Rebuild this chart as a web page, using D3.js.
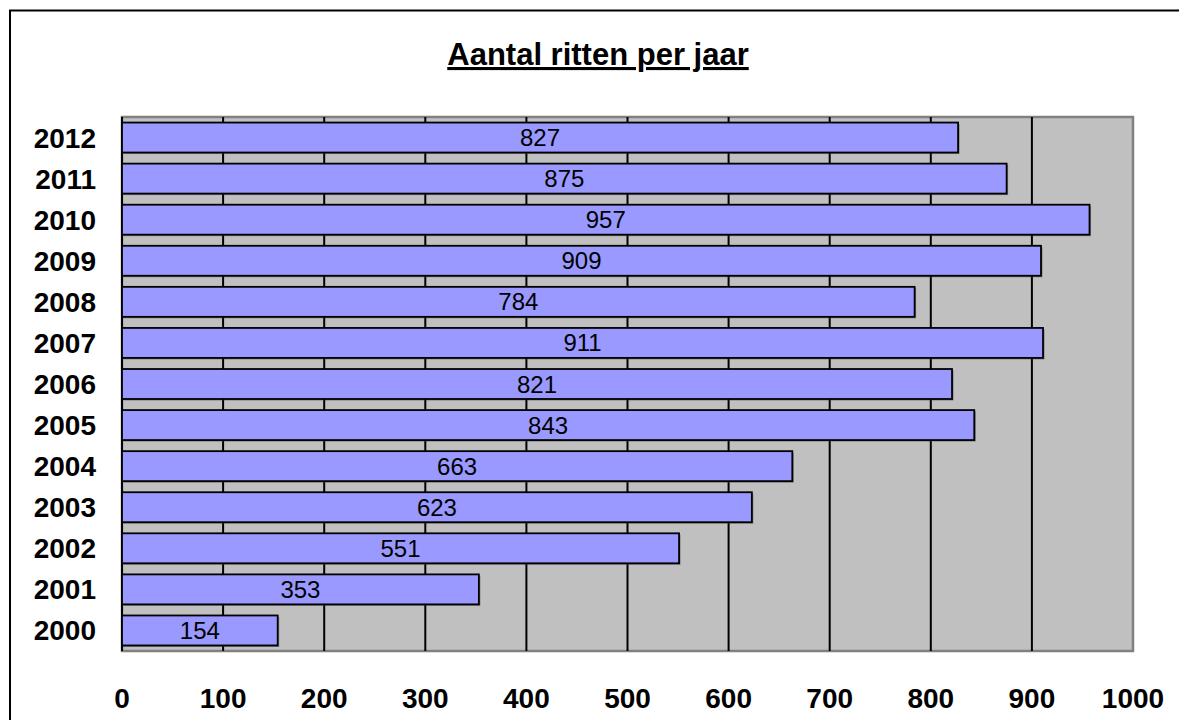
<!DOCTYPE html>
<html><head><meta charset="utf-8">
<script src="https://cdn.jsdelivr.net/npm/d3@7"></script>
<style>html,body{margin:0;padding:0;background:#fff;}svg{display:block;}</style>
</head><body>
<script>
const years = ["2012","2011","2010","2009","2008","2007","2006","2005","2004","2003","2002","2001","2000"];
const rides = [827,875,957,909,784,911,821,843,663,623,551,353,154];
const xTicks = [0,100,200,300,400,500,600,700,800,900,1000];
const title = "Aantal ritten per jaar";

(function () {
const W = 1179, H = 720;
const svg = d3.select("body").append("svg").attr("width", W).attr("height", H);
svg.append("rect").attr("width", W).attr("height", H).attr("fill", "#fff");
// outer chart border (extends beyond view right/bottom)
svg.append("rect").attr("x", 10).attr("y", 10.5).attr("width", W + 20).attr("height", H + 20)
  .attr("fill", "none").attr("stroke", "#000").attr("stroke-width", 2);

const pL = 122, pR = 1133, pT = 117, pB = 651;
const x = d3.scaleLinear().domain([0, 1000]).range([pL, pR]);
const y = d3.scaleBand().domain(years).range([pT, pB]).paddingInner(0.27).paddingOuter(0.135);

// plot area
svg.append("rect").attr("x", pL).attr("y", pT).attr("width", pR - pL).attr("height", pB - pT)
  .attr("fill", "#C0C0C0").attr("stroke", "#808080").attr("stroke-width", 2.5);

// gridlines
svg.append("g").selectAll("line").data(xTicks.filter(d => d > 0 && d < 1000)).join("line")
  .attr("x1", d => x(d)).attr("x2", d => x(d)).attr("y1", pT).attr("y2", pB)
  .attr("stroke", "#000").attr("stroke-width", 2);

// left axis line
svg.append("line").attr("x1", pL).attr("x2", pL).attr("y1", pT).attr("y2", pB)
  .attr("stroke", "#000").attr("stroke-width", 2);

// bar shadows
svg.append("g").selectAll("rect").data(years).join("rect")
  .attr("x", x(0) + 1.5).attr("y", d => y(d) + 1.5)
  .attr("width", (d, i) => x(rides[i]) - x(0)).attr("height", y.bandwidth())
  .attr("fill", "#404040").attr("opacity", 0.5);

// bars
svg.append("g").selectAll("rect").data(years).join("rect")
  .attr("x", x(0)).attr("y", d => y(d))
  .attr("width", (d, i) => x(rides[i]) - x(0)).attr("height", y.bandwidth())
  .attr("fill", "#9999FF").attr("stroke", "#000").attr("stroke-width", 1.8);

// value labels
svg.append("g").selectAll("text").data(years).join("text")
  .attr("x", (d, i) => (x(0) + x(rides[i])) / 2)
  .attr("y", d => y(d) + y.bandwidth() / 2 + 8.5)
  .attr("text-anchor", "middle")
  .attr("font-family", "Liberation Sans, Arial, sans-serif").attr("font-size", 24)
  .attr("fill", "#000")
  .text((d, i) => rides[i]);

// y-axis labels
svg.append("g").selectAll("text").data(years).join("text")
  .attr("x", 96).attr("y", d => y(d) + y.bandwidth() / 2 + 10)
  .attr("text-anchor", "end")
  .attr("font-family", "Liberation Sans, Arial, sans-serif").attr("font-size", 28).attr("font-weight", "bold")
  .attr("fill", "#000")
  .text(d => d);

// x-axis labels
svg.append("g").selectAll("text").data(xTicks).join("text")
  .attr("x", d => x(d)).attr("y", 708)
  .attr("text-anchor", "middle")
  .attr("font-family", "Liberation Sans, Arial, sans-serif").attr("font-size", 28).attr("font-weight", "bold")
  .attr("fill", "#000")
  .text(d => d);

// title
svg.append("text").attr("x", 598).attr("y", 65)
  .attr("text-anchor", "middle")
  .attr("font-family", "Liberation Sans, Arial, sans-serif").attr("font-size", 31).attr("font-weight", "bold")
  .attr("text-decoration", "underline")
  .attr("fill", "#000")
  .text(title);
})();
</script>
</body></html>
